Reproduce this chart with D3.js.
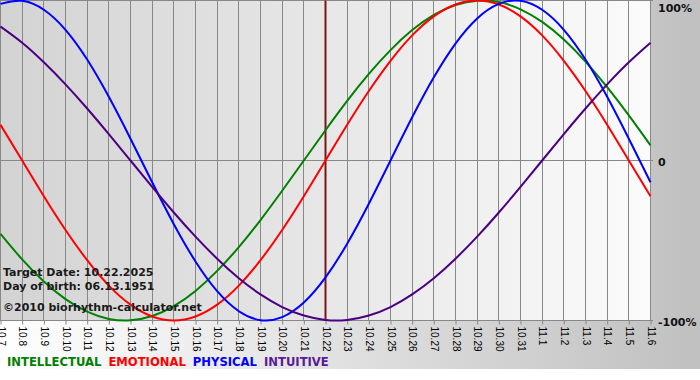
<!DOCTYPE html>
<html>
<head>
<meta charset="utf-8">
<script src="https://cdn.jsdelivr.net/npm/d3@7"></script>
<style>
  body { margin: 0; background: #fff; }
  svg { display: block; }
</style>
</head>
<body>
<div id="chart"></div>
<script>
// days shown on the chart
const dates = ["10.7","10.8","10.9","10.10","10.11","10.12","10.13","10.14","10.15","10.16",
  "10.17","10.18","10.19","10.20","10.21","10.22","10.23","10.24","10.25","10.26",
  "10.27","10.28","10.29","10.30","10.31","11.1","11.2","11.3","11.4","11.5","11.6"];

// cycle values per day (-1 .. 1)
const intellectual = [-0.458,-0.618,-0.756,-0.866,-0.945,-0.990,-0.999,-0.972,-0.910,-0.815,
  -0.690,-0.541,-0.372,-0.189,0.000,0.189,0.372,0.541,0.690,0.815,
  0.910,0.972,0.999,0.990,0.945,0.866,0.756,0.618,0.458,0.282,0.095];
const emotional = [0.223,0.000,-0.223,-0.434,-0.623,-0.782,-0.901,-0.975,-1.000,-0.975,
  -0.901,-0.782,-0.623,-0.434,-0.223,0.000,0.223,0.434,0.623,0.782,
  0.901,0.975,1.000,0.975,0.901,0.782,0.623,0.434,0.223,0.000,-0.223];
const physical = [0.979,0.998,0.942,0.817,0.631,0.398,0.136,-0.136,-0.398,-0.631,
  -0.817,-0.942,-0.998,-0.979,-0.888,-0.731,-0.520,-0.270,0.000,0.270,
  0.520,0.731,0.888,0.979,0.998,0.942,0.817,0.631,0.398,0.136,-0.136];
const intuitive = [0.837,0.736,0.614,0.476,0.325,0.165,0.000,-0.165,-0.325,-0.476,
  -0.614,-0.736,-0.837,-0.916,-0.969,-0.997,-0.997,-0.969,-0.916,-0.837,
  -0.736,-0.614,-0.476,-0.325,-0.165,0.000,0.165,0.325,0.476,0.614,0.736];

const yTicks = [1, 0, -1];
const yTickLabels = ["100%", "0", "-100%"];
const targetDate = "10.22";
const notes = ["Target Date: 10.22.2025", "Day of birth: 06.13.1951", "\u00a92010 biorhythm-calculator.net"];
const seriesNames = ["INTELLECTUAL", "EMOTIONAL", "PHYSICAL", "INTUITIVE"];

const width = 700, height = 380;
const plotW = 651, plotB = 320.5;
const lineColors = ["#008000", "#ff0000", "#0000ff", "#4b0082"];
const legendColors = ["#008000", "#ff0000", "#0000ff", "#5a1a9a"];
const gridColor = "#888";

const svg = d3.select("#chart").append("svg")
  .attr("width", width)
  .attr("height", height);

const defs = svg.append("defs");
const bgGrad = defs.append("linearGradient").attr("id", "bgGrad");
bgGrad.append("stop").attr("offset", "0%").attr("stop-color", "#ffffff");
bgGrad.append("stop").attr("offset", "100%").attr("stop-color", "#c0c0c0");
const plotGrad = defs.append("linearGradient").attr("id", "plotGrad");
plotGrad.append("stop").attr("offset", "0%").attr("stop-color", "#d3d3d3");
plotGrad.append("stop").attr("offset", "100%").attr("stop-color", "#fbfbfb");

svg.append("rect").attr("width", width).attr("height", 369).attr("fill", "url(#bgGrad)");

const x = d3.scaleLinear().domain([0, dates.length - 1]).range([0.5, plotW - 0.5]);
const y = d3.scaleLinear().domain([-1, 1]).range([plotB, 0.5]);

svg.append("rect")
  .attr("x", 0).attr("y", 0.5)
  .attr("width", plotW).attr("height", plotB - 0.5)
  .attr("fill", "url(#plotGrad)");

// vertical grid
svg.append("g").selectAll("line")
  .data(dates)
  .enter().append("line")
  .attr("x1", (d, i) => Math.round(x(i) - 0.5) + 0.5)
  .attr("x2", (d, i) => Math.round(x(i) - 0.5) + 0.5)
  .attr("y1", y(1)).attr("y2", plotB)
  .attr("stroke", gridColor);

// horizontal lines
svg.append("g").selectAll("line")
  .data(yTicks)
  .enter().append("line")
  .attr("x1", 0).attr("x2", plotW + 2)
  .attr("y1", d => y(d)).attr("y2", d => y(d))
  .attr("stroke", gridColor);

// x axis
const xAxis = d3.axisBottom(x)
  .tickValues(d3.range(dates.length))
  .tickFormat(i => dates[i])
  .tickSize(4)
  .tickSizeOuter(0);

const gx = svg.append("g")
  .attr("transform", "translate(0," + plotB + ")")
  .call(xAxis);
gx.select(".domain").remove();
gx.selectAll(".tick line").attr("stroke", gridColor);
gx.selectAll(".tick text")
  .attr("y", 0).attr("x", 0)
  .attr("dy", "0.35em")
  .attr("transform", "translate(0,6) rotate(90)")
  .style("text-anchor", "start")
  .style("font-family", "'Liberation Sans', Arial, sans-serif")
  .style("font-size", "10px")
  .attr("fill", "#000");

// y labels on the right
svg.append("g").selectAll("text")
  .data(yTicks)
  .enter().append("text")
  .attr("x", plotW + 7)
  .attr("y", d => Math.max(y(d) + 5, 11.5))
  .text((d, i) => yTickLabels[i])
  .style("font-family", "'DejaVu Sans', sans-serif")
  .style("font-weight", "bold")
  .style("font-size", "11px")
  .attr("fill", "#111");

// target date marker
const ti = dates.indexOf(targetDate);
svg.append("line")
  .attr("x1", x(ti)).attr("x2", x(ti))
  .attr("y1", y(1)).attr("y2", plotB)
  .attr("stroke", "#7a1616")
  .attr("stroke-width", 2);

// curves
const series = [intellectual, emotional, physical, intuitive];
const line = d3.line()
  .x((d, i) => x(i))
  .y(d => y(d))
  .curve(d3.curveNatural);

svg.append("g").selectAll("path")
  .data(series)
  .enter().append("path")
  .attr("d", d => line(d))
  .attr("fill", "none")
  .attr("stroke", (d, i) => lineColors[i])
  .attr("stroke-width", 2);

// notes in the lower left
const noteY = [276, 290, 311];
svg.append("g").selectAll("text")
  .data(notes)
  .enter().append("text")
  .attr("x", 3)
  .attr("y", (d, i) => noteY[i])
  .text(d => d)
  .style("font-family", "'DejaVu Sans', sans-serif")
  .style("font-weight", "bold")
  .style("font-size", "11px")
  .attr("fill", "#1a1a1a");

// legend
const legend = svg.append("g");
let lx = 7;
seriesNames.forEach((name, i) => {
  const t = legend.append("text")
    .attr("x", lx)
    .attr("y", 366)
    .text(name)
    .style("font-family", "'DejaVu Sans', sans-serif")
    .style("font-weight", "bold")
    .style("font-size", "11.6px")
    .attr("fill", legendColors[i]);
  lx += t.node().getComputedTextLength() + 7;
});
</script>
</body>
</html>
